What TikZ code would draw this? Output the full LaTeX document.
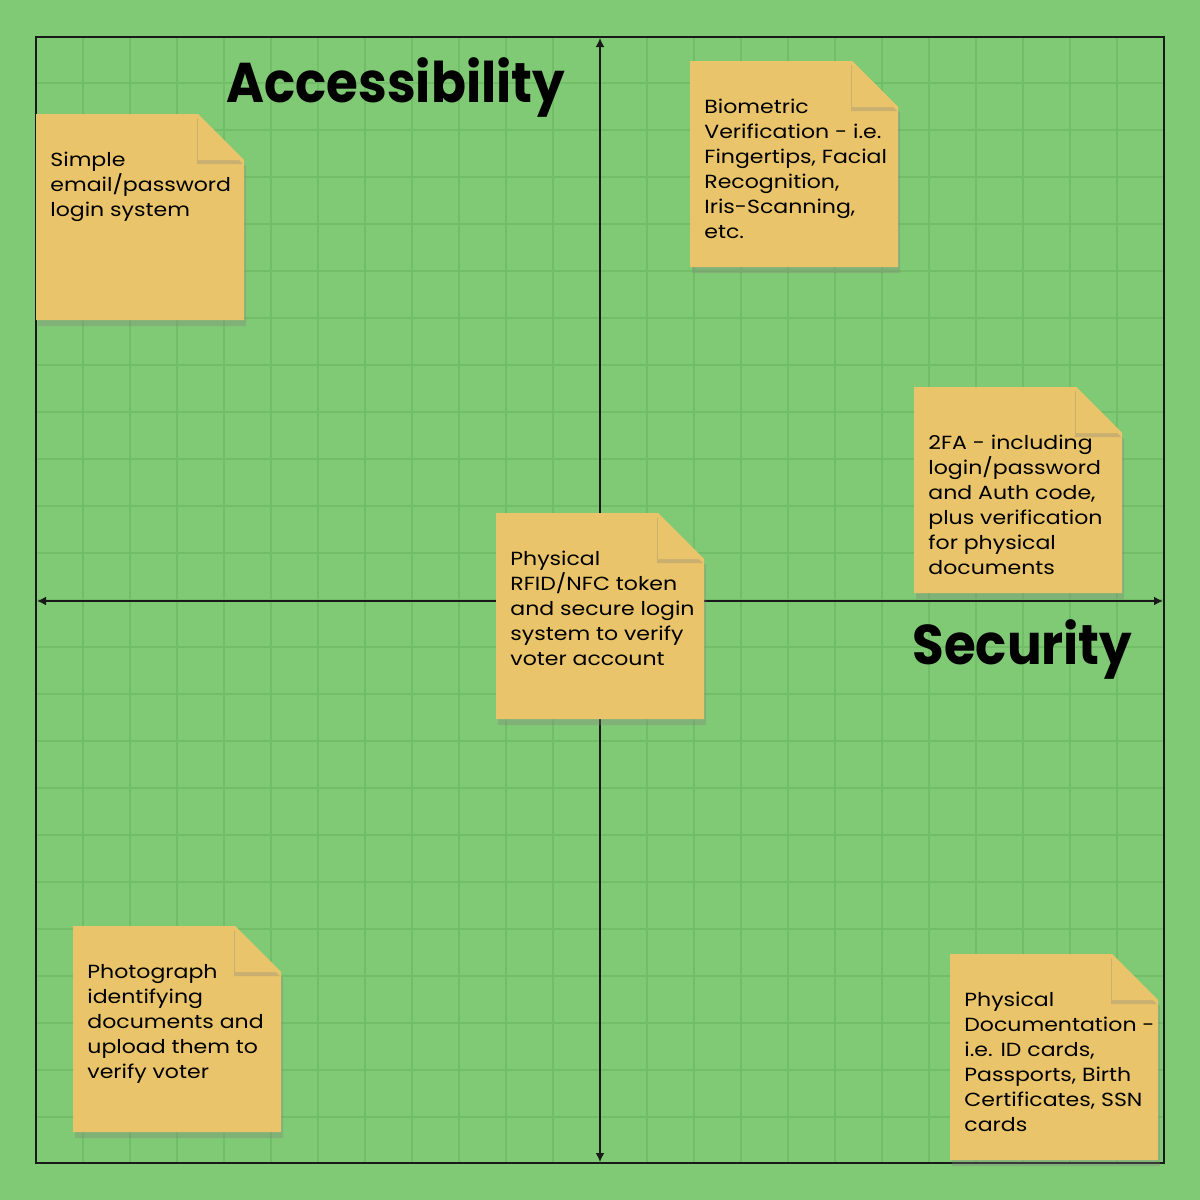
\documentclass[tikz,border=0pt]{standalone}
\usepackage{fontspec}
\setmainfont{Poppins}
\newfontfamily\notefont{Poppins}[FakeStretch=1.16]
\newfontfamily\titlefont{Poppins}[FakeStretch=0.92]
\usetikzlibrary{arrows.meta,shadows}
\definecolor{boardgreen}{RGB}{128,201,117}
\definecolor{gridgreen}{RGB}{114,189,104}
\definecolor{notefill}{RGB}{234,196,106}
\newcommand\stickynote[5][38]{%
  \fill[note] (#3,#4) -- (#3+162,#4) -- (#3+208,#4+46) -- (#3+208,#4+206) -- (#3,#4+206) -- cycle;
  \fill[fold] (#3+162,#4) -- (#3+162,#4+46) -- (#3+208,#4+46) -- cycle;
  \node[notetext] (#2) at (#3+14,#4+#1) {#5};
}
\begin{document}
\begin{tikzpicture}[x=0.5pt,y=-0.5pt,
    gridline/.style={gridgreen, line width=1pt},
    frame/.style={black!90, line width=1.4pt},
    axis/.style={black!90, line width=1pt, {Latex[length=4.5pt,width=4.5pt]}-{Latex[length=4.5pt,width=4.5pt]}},
    note/.style={notefill, drop shadow={shadow xshift=1pt, shadow yshift=-3pt, opacity=0.3}},
    fold/.style={notefill, drop shadow={shadow xshift=-0.5pt, shadow yshift=-2pt, opacity=0.3}},
    notetext/.style={anchor=north west, inner sep=0pt, align=left, font=\notefont\fontsize{9.5}{12.5}\selectfont},
    heading/.style={anchor=base west, inner sep=0pt, font=\titlefont\fontsize{28}{30}\selectfont\bfseries}]
    \fill[boardgreen] (0,0) rectangle (1200,1200);
    \useasboundingbox (0,0) rectangle (1200,1200);
    \foreach \g in {1,...,23} {
        \draw[gridline] (36+47*\g,37) -- (36+47*\g,1163);
        \draw[gridline] (37,36+47*\g) -- (1163,36+47*\g);
    }
    \draw[frame] (36,37) rectangle (1164,1163);
    \coordinate (top) at (600,38);
    \coordinate (bottom) at (600,1162);
    \coordinate (left) at (37,601);
    \coordinate (right) at (1163,601);
    \draw[axis] (bottom) -- (top);
    \draw[axis] (right) -- (left);
    \node[heading] (access) at (226,102) {Accessibility};
    \node[heading] (secure) at (912,664) {Security};
    \stickynote{simple}{36}{114}{Simple\\email/password\\login system}
    \stickynote{bio}{690}{61}{Biometric\\Verification - i.e.\\Fingertips, Facial\\Recognition,\\Iris-Scanning,\\etc.}
    \stickynote[48]{twofa}{914}{387}{2FA - including\\login/password\\and Auth code,\\plus verification\\for physical\\documents}
    \stickynote{rfid}{496}{513}{Physical\\RFID/NFC token\\and secure login\\system to verify\\voter account}
    \stickynote{photo}{73}{926}{Photograph\\identifying\\documents and\\upload them to\\verify voter}
    \stickynote{docs}{950}{954}{Physical\\Documentation -\\i.e. ID cards,\\Passports, Birth\\Certificates, SSN\\cards}
\end{tikzpicture}
\end{document}
